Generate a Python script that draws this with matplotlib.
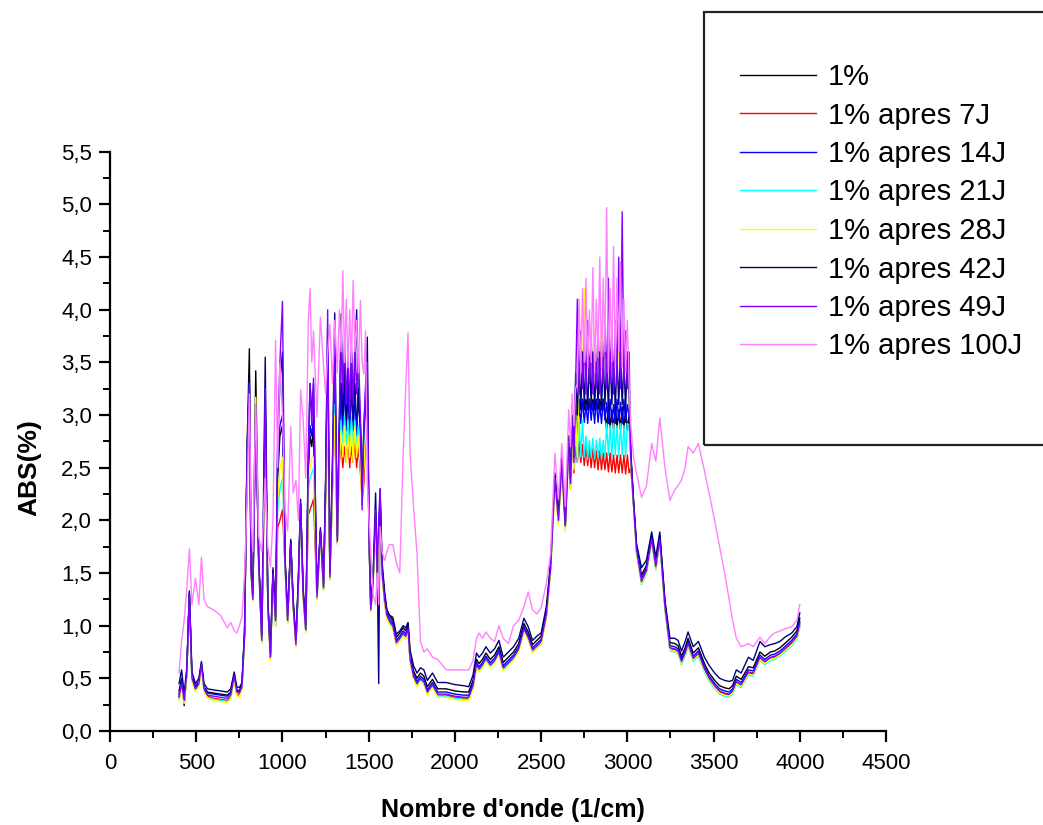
import matplotlib.pyplot as plt
from matplotlib.patches import Rectangle
from matplotlib.ticker import FuncFormatter, MultipleLocator

plt.rcParams['font.family'] = ['Liberation Sans', 'DejaVu Sans']

# wavenumbers (1/cm), shared by every spectrum
wavenumber = [
    400, 415, 430, 445, 460, 475, 495, 515, 530, 545, 565, 600, 640, 680, 700, 720, 735, 750, 765, 780,
    795, 808, 818, 828, 845, 862, 880, 900, 915, 930, 945, 960, 972, 985, 1000, 1015, 1030, 1048, 1062,
    1078, 1092, 1105, 1120, 1135, 1150, 1160, 1170, 1180, 1200, 1220, 1238, 1250, 1262, 1275, 1290, 1303, 1318,
    1330, 1340, 1350, 1360, 1370, 1380, 1390, 1400, 1410, 1420, 1430, 1440, 1452,
    1462, 1472, 1482, 1492, 1502, 1512, 1525, 1540, 1550, 1558, 1566, 1578, 1592, 1605, 1620,
    1640, 1660, 1680, 1700, 1715, 1728, 1740, 1760, 1780, 1800, 1820, 1840, 1870, 1900, 1950, 2000, 2050,
    2080, 2105, 2125, 2140, 2160, 2180, 2205, 2230, 2255, 2280, 2310, 2340, 2370, 2400, 2425, 2450, 2475,
    2500, 2530, 2555, 2580, 2600, 2620, 2640,
    2660, 2670, 2680, 2690, 2700, 2710, 2720, 2730, 2740, 2750, 2760, 2770, 2780, 2790, 2800, 2810, 2820,
    2830, 2840, 2850, 2860, 2870, 2880, 2890, 2900, 2910, 2920, 2930, 2940, 2950, 2960, 2970, 2980, 2990,
    3000, 3010, 3020,
    3036, 3053, 3082, 3110, 3141, 3165, 3188, 3218, 3247, 3275, 3294, 3314, 3335, 3352, 3382, 3412, 3447,
    3475, 3506, 3535, 3564, 3590, 3610, 3632, 3660, 3702, 3730, 3769, 3797, 3830, 3855, 3885, 3913, 3953,
    3983, 4000,
]

abs_1pct = [
    0.38, 0.50, 0.24, 0.55, 1.30, 0.52, 0.42, 0.47, 0.64, 0.42, 0.37, 0.36, 0.35, 0.34, 0.37, 0.54, 0.39, 0.38, 0.44, 0.93,
    2.7, 3.63, 1.55, 1.28, 3.42, 1.65, 0.88, 3.1, 1.22, 0.72, 1.52, 1.07, 2.4, 2.8, 2.9, 1.62, 1.07, 1.8, 1.22,
    0.84, 1.42, 2.15, 1.32, 0.98, 2.5, 2.8, 2.7, 2.9, 1.29, 1.9, 1.38, 2.3, 3.5, 1.48, 2.4, 3.3, 1.82,
    2.9, 3.3, 2.85, 3.4, 2.9, 3.3, 2.85, 3.35, 2.9, 3.3, 2.85, 3.2, 2.9,
    2.2, 2.8, 3.0, 3.2, 1.85, 1.2, 1.45, 2.0, 1.5, 1.9, 2.2, 1.55, 1.3, 1.15, 1.1,
    1.05, 0.89, 0.93, 0.98, 0.95, 1.02, 0.73, 0.57, 0.50, 0.55, 0.52, 0.42, 0.49, 0.40, 0.40, 0.38, 0.37,
    0.37, 0.48, 0.68, 0.64, 0.68, 0.74, 0.68, 0.72, 0.80, 0.65, 0.70, 0.75, 0.83, 1.02, 0.94, 0.82, 0.86,
    0.90, 1.14, 1.58, 2.42, 2.03, 2.58, 1.97,
    2.80, 2.40, 3.00, 2.60, 3.10, 2.70, 3.15, 3.05, 3.15, 3.05, 3.15, 3.05, 3.15, 3.05, 3.15, 3.05, 3.15,
    3.05, 3.15, 3.05, 3.15, 3.05, 2.86, 3.08, 2.88, 3.05, 2.86, 3.10, 2.88, 3.05, 2.86, 3.08, 2.88, 3.05,
    2.86, 3.00, 2.62,
    2.17, 1.76, 1.48, 1.57, 1.86, 1.61, 1.86, 1.22, 0.84, 0.83, 0.81, 0.71, 0.79, 0.88, 0.74, 0.79, 0.64,
    0.55, 0.48, 0.43, 0.41, 0.40, 0.43, 0.52, 0.49, 0.61, 0.60, 0.75, 0.71, 0.75, 0.76, 0.79, 0.83, 0.89,
    0.95, 1.07,
]

abs_7j = [
    0.33, 0.45, 0.28, 0.54, 1.29, 0.49, 0.39, 0.44, 0.62, 0.39, 0.33, 0.31, 0.30, 0.29, 0.32, 0.51, 0.35, 0.34, 0.41, 0.90,
    2.6, 3.2, 1.5, 1.25, 3.0, 1.6, 0.85, 3.0, 1.2, 0.69, 1.48, 1.0, 1.93, 2.0, 2.1, 1.55, 1.03, 1.76, 1.2,
    0.81, 1.38, 2.1, 1.28, 0.95, 2.05, 2.1, 2.15, 2.2, 1.25, 1.88, 1.34, 2.2, 3.2, 1.44, 2.3, 3.0, 1.78,
    2.55, 2.75, 2.5, 2.7, 2.55, 2.8, 2.5, 2.7, 2.55, 2.75, 2.5, 2.7, 2.45,
    2.2, 2.35, 2.8, 3.0, 1.8, 1.15, 1.4, 1.95, 1.45, 1.85, 2.1, 1.48, 1.22, 1.08, 1.03,
    0.99, 0.83, 0.87, 0.92, 0.89, 0.96, 0.67, 0.51, 0.44, 0.49, 0.46, 0.36, 0.43, 0.34, 0.34, 0.32, 0.31,
    0.31, 0.42, 0.62, 0.58, 0.62, 0.68, 0.62, 0.66, 0.74, 0.59, 0.64, 0.69, 0.77, 0.96, 0.88, 0.76, 0.80,
    0.84, 1.09, 1.54, 2.38, 1.99, 2.52, 1.93,
    2.68, 2.30, 2.85, 2.45, 2.70, 2.55, 2.75, 2.55, 2.72, 2.52, 2.70, 2.52, 2.68, 2.50, 2.68, 2.50, 2.66,
    2.48, 2.66, 2.48, 2.64, 2.48, 2.64, 2.46, 2.64, 2.46, 2.62, 2.45, 2.62, 2.45, 2.62, 2.45, 2.62, 2.44,
    2.62, 2.45, 2.50,
    2.14, 1.71, 1.41, 1.51, 1.81, 1.55, 1.81, 1.17, 0.78, 0.77, 0.75, 0.65, 0.73, 0.82, 0.68, 0.73, 0.58,
    0.49, 0.42, 0.37, 0.35, 0.34, 0.37, 0.46, 0.43, 0.55, 0.54, 0.69, 0.65, 0.69, 0.70, 0.73, 0.77, 0.83,
    0.89, 1.00,
]

abs_14j = [
    0.35, 0.48, 0.30, 0.56, 1.31, 0.51, 0.41, 0.46, 0.63, 0.41, 0.36, 0.35, 0.34, 0.33, 0.36, 0.53, 0.38, 0.37, 0.43, 0.92,
    2.65, 3.3, 1.52, 1.27, 3.05, 1.62, 0.87, 3.05, 1.21, 0.71, 1.5, 1.03, 2.5, 2.9, 3.0, 1.6, 1.06, 1.79, 1.21,
    0.83, 1.4, 2.16, 1.31, 0.97, 2.5, 2.9, 2.8, 3.0, 1.28, 1.9, 1.37, 2.3, 3.6, 1.47, 2.4, 3.4, 1.81,
    2.85, 3.2, 2.8, 3.3, 2.85, 3.25, 2.8, 3.3, 2.85, 3.2, 2.8, 3.25, 2.85,
    2.15, 2.8, 3.1, 3.3, 1.82, 1.18, 1.42, 2.05, 1.48, 1.9, 2.2, 1.52, 1.27, 1.12, 1.07,
    1.02, 0.86, 0.90, 0.95, 0.92, 0.99, 0.70, 0.54, 0.47, 0.52, 0.49, 0.39, 0.46, 0.37, 0.37, 0.35, 0.34,
    0.34, 0.45, 0.65, 0.61, 0.65, 0.71, 0.65, 0.69, 0.77, 0.62, 0.67, 0.72, 0.80, 0.99, 0.91, 0.79, 0.83,
    0.87, 1.12, 1.56, 2.41, 2.01, 2.56, 1.96,
    2.75, 2.35, 2.95, 2.50, 3.00, 2.60, 3.10, 2.92, 3.15, 2.93, 3.10, 2.92, 3.15, 2.95, 3.12, 2.92, 3.15,
    2.93, 3.10, 2.92, 3.15, 2.95, 3.12, 2.92, 3.15, 2.93, 3.10, 2.92, 3.15, 2.95, 3.12, 2.92, 3.15, 2.93,
    3.10, 3.00, 2.60,
    2.16, 1.74, 1.45, 1.54, 1.84, 1.58, 1.84, 1.20, 0.81, 0.80, 0.78, 0.68, 0.76, 0.85, 0.71, 0.76, 0.61,
    0.52, 0.45, 0.40, 0.38, 0.37, 0.40, 0.49, 0.46, 0.58, 0.57, 0.72, 0.68, 0.72, 0.73, 0.76, 0.80, 0.86,
    0.92, 1.04,
]

abs_21j = [
    0.30, 0.44, 0.27, 0.53, 1.28, 0.48, 0.38, 0.43, 0.61, 0.38, 0.32, 0.30, 0.29, 0.28, 0.31, 0.50, 0.34, 0.33, 0.40, 0.89,
    2.6, 3.25, 1.49, 1.24, 3.0, 1.59, 0.84, 3.0, 1.19, 0.68, 1.47, 1.0, 2.1, 2.3, 2.4, 1.56, 1.03, 1.76, 1.19,
    0.8, 1.38, 2.12, 1.28, 0.94, 2.3, 2.4, 2.45, 2.5, 1.25, 1.87, 1.34, 2.25, 3.3, 1.44, 2.35, 3.1, 1.78,
    2.7, 2.95, 2.7, 3.0, 2.72, 2.95, 2.7, 2.98, 2.7, 2.95, 2.68, 2.9, 2.6,
    2.2, 2.6, 2.9, 3.1, 1.8, 1.14, 1.38, 2.0, 1.45, 1.85, 2.15, 1.48, 1.23, 1.07, 1.02,
    0.98, 0.82, 0.86, 0.91, 0.88, 0.95, 0.66, 0.50, 0.43, 0.48, 0.45, 0.35, 0.42, 0.33, 0.33, 0.31, 0.30,
    0.30, 0.41, 0.61, 0.57, 0.61, 0.67, 0.61, 0.65, 0.73, 0.58, 0.63, 0.68, 0.76, 0.95, 0.87, 0.75, 0.79,
    0.83, 1.08, 1.52, 2.36, 1.97, 2.50, 1.90,
    2.70, 2.30, 2.90, 2.50, 2.95, 2.55, 2.98, 2.60, 2.95, 2.60, 2.80, 2.58, 2.76, 2.60, 2.78, 2.58, 2.76,
    2.60, 2.78, 2.58, 2.76, 2.60, 2.92, 2.62, 2.90, 2.60, 2.92, 2.62, 2.90, 2.60, 2.92, 2.62, 2.90, 2.60,
    2.92, 2.90, 2.55,
    2.13, 1.69, 1.39, 1.49, 1.79, 1.53, 1.79, 1.15, 0.76, 0.75, 0.73, 0.63, 0.71, 0.80, 0.66, 0.71, 0.56,
    0.47, 0.40, 0.35, 0.33, 0.32, 0.35, 0.44, 0.41, 0.53, 0.52, 0.67, 0.63, 0.67, 0.68, 0.71, 0.75, 0.81,
    0.87, 0.98,
]

abs_28j = [
    0.28, 0.42, 0.26, 0.52, 1.27, 0.47, 0.37, 0.42, 0.60, 0.37, 0.31, 0.29, 0.28, 0.27, 0.30, 0.49, 0.33, 0.32, 0.39, 0.88,
    2.6, 3.2, 1.48, 1.23, 3.17, 1.58, 0.83, 2.95, 1.18, 0.67, 1.46, 0.99, 2.2, 2.5, 2.6, 1.55, 1.02, 1.75, 1.18,
    0.79, 1.37, 2.1, 1.27, 0.93, 2.4, 2.5, 2.6, 2.6, 1.24, 1.86, 1.33, 2.2, 3.2, 1.43, 2.3, 3.0, 1.77,
    2.55, 2.85, 2.6, 2.9, 2.55, 2.8, 2.6, 2.85, 2.55, 2.9, 2.6, 2.8, 2.5,
    2.15, 2.5, 2.85, 3.05, 1.78, 1.13, 1.37, 1.95, 1.44, 1.83, 2.1, 1.46, 1.21, 1.06, 1.01,
    0.97, 0.81, 0.85, 0.90, 0.87, 0.94, 0.65, 0.49, 0.42, 0.47, 0.44, 0.34, 0.41, 0.32, 0.32, 0.30, 0.29,
    0.29, 0.40, 0.60, 0.56, 0.60, 0.66, 0.60, 0.64, 0.72, 0.57, 0.62, 0.67, 0.75, 0.94, 0.86, 0.74, 0.78,
    0.82, 1.07, 1.50, 2.35, 1.96, 2.48, 1.90,
    2.70, 2.30, 2.88, 2.48, 3.00, 2.60, 3.30, 3.80, 3.30, 4.20, 3.30, 3.80, 3.35, 3.75, 3.30, 3.80, 3.35,
    3.75, 3.30, 3.80, 3.35, 3.75, 3.30, 3.80, 3.35, 3.75, 3.30, 3.80, 3.35, 3.75, 3.30, 3.80, 3.35, 3.75,
    3.30, 3.20, 2.58,
    2.13, 1.70, 1.40, 1.50, 1.80, 1.54, 1.80, 1.16, 0.77, 0.76, 0.74, 0.64, 0.72, 0.81, 0.67, 0.72, 0.57,
    0.48, 0.41, 0.36, 0.34, 0.33, 0.36, 0.45, 0.42, 0.54, 0.53, 0.68, 0.64, 0.68, 0.69, 0.72, 0.76, 0.82,
    0.88, 0.99,
]

abs_42j = [
    0.45, 0.58, 0.35, 0.60, 1.33, 0.56, 0.45, 0.50, 0.66, 0.45, 0.40, 0.39, 0.38, 0.37, 0.40, 0.56, 0.42, 0.41, 0.46, 0.95,
    2.7, 3.35, 1.55, 1.3, 3.1, 1.65, 0.9, 3.55, 1.25, 0.74, 1.55, 1.08, 2.7, 3.3, 3.6, 1.65, 1.1, 1.82, 1.25,
    0.87, 1.45, 2.2, 1.35, 1.0, 2.7, 3.3, 3.0, 3.3, 1.32, 1.93, 1.4, 2.4, 3.8, 1.5, 2.6, 3.97, 1.85,
    2.95, 3.96, 3.0, 3.5, 2.95, 3.55, 3.0, 3.6, 2.95, 3.5, 4.0, 3.1, 2.9,
    2.3, 2.9, 3.2, 3.74, 1.9, 1.2, 1.45, 2.26, 1.5, 0.45, 2.3, 1.6, 1.33, 1.15, 1.1,
    1.08, 0.92, 0.95, 1.00, 0.98, 1.03, 0.77, 0.62, 0.55, 0.60, 0.58, 0.48, 0.55, 0.46, 0.46, 0.44, 0.43,
    0.42, 0.53, 0.74, 0.70, 0.74, 0.80, 0.74, 0.78, 0.86, 0.70, 0.75, 0.80, 0.88, 1.07, 0.99, 0.86, 0.90,
    0.93, 1.18, 1.60, 2.45, 2.05, 2.60, 1.95,
    2.80, 2.40, 3.00, 2.60, 3.40, 3.00, 3.50, 3.05, 3.60, 3.10, 3.50, 3.05, 3.55, 3.10, 3.60, 3.05, 3.50,
    3.10, 3.60, 3.05, 3.55, 3.10, 3.50, 3.05, 3.60, 3.10, 3.50, 3.05, 3.55, 3.10, 3.60, 3.10, 3.50, 3.05,
    3.60, 3.20, 2.65,
    2.19, 1.78, 1.55, 1.62, 1.89, 1.65, 1.89, 1.24, 0.88, 0.88, 0.86, 0.76, 0.85, 0.94, 0.80, 0.85, 0.70,
    0.62, 0.55, 0.50, 0.48, 0.47, 0.48, 0.58, 0.55, 0.70, 0.67, 0.85, 0.80, 0.82, 0.83, 0.85, 0.89, 0.93,
    0.99, 1.12,
]

abs_49j = [
    0.32, 0.45, 0.29, 0.55, 1.30, 0.50, 0.40, 0.45, 0.63, 0.40, 0.34, 0.33, 0.32, 0.31, 0.34, 0.52, 0.37, 0.36, 0.42, 0.90,
    2.6, 3.3, 1.5, 1.25, 3.0, 1.6, 0.86, 3.25, 1.2, 0.7, 1.5, 1.05, 2.8, 3.5, 4.08, 1.6, 1.05, 1.78, 1.2,
    0.82, 1.4, 2.17, 1.3, 0.96, 2.6, 3.3, 2.9, 3.35, 1.27, 1.9, 1.36, 2.3, 4.0, 1.46, 2.5, 3.7, 1.8,
    3.0, 3.8, 3.2, 3.7, 3.1, 3.6, 3.0, 3.65, 3.1, 3.7, 3.2, 3.6, 3.0,
    2.1, 2.9, 3.3, 3.5, 1.8, 1.15, 1.4, 2.1, 1.5, 2.0, 2.3, 1.5, 1.25, 1.1, 1.05,
    1.00, 0.84, 0.88, 0.93, 0.90, 0.97, 0.68, 0.52, 0.45, 0.50, 0.47, 0.37, 0.44, 0.35, 0.35, 0.33, 0.32,
    0.32, 0.43, 0.63, 0.59, 0.63, 0.69, 0.63, 0.67, 0.75, 0.60, 0.65, 0.70, 0.78, 0.97, 0.89, 0.77, 0.81,
    0.85, 1.10, 1.55, 2.40, 2.00, 2.55, 1.95,
    2.75, 2.35, 2.95, 2.55, 3.30, 4.10, 3.20, 3.80, 3.25, 3.70, 3.20, 3.90, 3.30, 3.75, 3.20, 3.60, 3.25,
    3.85, 3.20, 3.70, 3.30, 3.90, 3.25, 4.30, 3.30, 3.80, 3.20, 3.90, 3.30, 4.50, 3.25, 4.93, 3.30, 3.80,
    3.25, 3.60, 2.60,
    2.15, 1.72, 1.42, 1.52, 1.82, 1.56, 1.82, 1.18, 0.79, 0.78, 0.76, 0.66, 0.74, 0.83, 0.69, 0.74, 0.59,
    0.50, 0.43, 0.38, 0.36, 0.35, 0.38, 0.47, 0.44, 0.56, 0.55, 0.70, 0.66, 0.70, 0.71, 0.74, 0.78, 0.84,
    0.90, 1.02,
]

abs_100j = [
    0.55, 0.85, 1.05, 1.35, 1.73, 1.20, 1.45, 1.20, 1.65, 1.25, 1.18, 1.15, 1.10, 0.98, 1.03, 0.95, 0.93, 1.00, 1.08, 1.50,
    2.2, 3.2, 2.0, 1.7, 3.1, 1.85, 1.7, 2.4, 1.75, 1.56, 2.0, 3.71, 2.5, 3.49, 3.0, 2.1, 1.9, 2.89, 2.26,
    2.38, 2.0, 3.24, 2.95, 2.4, 3.9, 4.2, 3.5, 3.8, 2.98, 3.93, 3.47, 3.2, 3.6, 3.86, 3.3, 3.9, 3.4,
    4.0, 3.6, 4.37, 3.5, 4.1, 3.45, 4.0, 3.5, 4.28, 3.6, 3.9, 3.4, 4.09,
    3.5, 3.39, 3.8, 2.38, 2.0, 1.69, 1.3, 1.2, 1.5, 1.2, 1.94, 1.7, 1.62, 1.7, 1.77,
    1.77, 1.60, 1.50, 2.64, 3.27, 3.78, 2.64, 2.13, 1.69, 0.85, 0.75, 0.78, 0.70, 0.68, 0.58, 0.58, 0.58,
    0.58, 0.67, 0.88, 0.93, 0.88, 0.94, 0.88, 0.85, 1.00, 0.88, 0.83, 1.00, 1.05, 1.18, 1.32, 1.15, 1.11,
    1.17, 1.40, 1.69, 2.64, 2.20, 2.73, 2.13,
    3.05, 2.70, 3.20, 2.90, 3.25, 3.30, 4.10, 3.40, 4.20, 3.50, 4.30, 3.45, 4.00, 3.50, 4.40, 3.40, 4.10,
    3.55, 4.50, 3.45, 4.30, 3.60, 4.97, 3.40, 4.20, 3.50, 4.60, 3.45, 4.30, 3.60, 4.45, 3.45, 4.10, 3.40,
    3.90, 3.30, 2.90,
    2.60, 2.45, 2.22, 2.32, 2.73, 2.56, 2.97, 2.50, 2.19, 2.29, 2.33, 2.38, 2.50, 2.70, 2.64, 2.73, 2.47,
    2.25, 2.00, 1.75, 1.50, 1.25, 1.05, 0.88, 0.80, 0.83, 0.80, 0.89, 0.83, 0.90, 0.93, 0.95, 0.97, 0.99,
    1.05, 1.20,
]

labels = ['1%', '1% apres 7J', '1% apres 14J', '1% apres 21J',
          '1% apres 28J', '1% apres 42J', '1% apres 49J', '1% apres 100J']
spectra = [abs_1pct, abs_7j, abs_14j, abs_21j, abs_28j, abs_42j, abs_49j, abs_100j]
colors = ['#000000', '#FF0000', '#0000FF', '#00FFFF',
          '#FFFF00', '#000080', '#8000FF', '#FF80FF']

fig = plt.figure(figsize=(10.43, 8.25), dpi=100)
ax = fig.add_axes([0.1055, 0.114, 0.744, 0.702])

handles = []
for y, c, lab in zip(spectra, colors, labels):
    ln, = ax.plot(wavenumber, y, color=c, lw=1.0, label=lab)
    handles.append(ln)

ax.set_xlim(0, 4500)
ax.set_ylim(0, 5.5)
ax.xaxis.set_major_locator(MultipleLocator(500))
ax.xaxis.set_minor_locator(MultipleLocator(250))
ax.yaxis.set_major_locator(MultipleLocator(0.5))
ax.yaxis.set_minor_locator(MultipleLocator(0.25))
ax.yaxis.set_major_formatter(FuncFormatter(lambda v, p: f'{v:.1f}'.replace('.', ',')))

for side in ('top', 'right'):
    ax.spines[side].set_visible(False)
for side in ('left', 'bottom'):
    ax.spines[side].set_linewidth(1.6)

ax.tick_params(which='major', direction='out', length=8, width=1.6, labelsize=16)
ax.tick_params(which='minor', direction='out', length=5, width=1.4)
ax.tick_params(axis='x', pad=8)
ax.tick_params(axis='y', pad=5)

ax.set_xlabel("Nombre d'onde (1/cm)", fontsize=18, fontweight='bold')
ax.set_ylabel('ABS(%)', fontsize=19, fontweight='bold')
ax.xaxis.set_label_coords(0.519, -0.115)
ax.yaxis.set_label_coords(-0.088, 0.454)

# legend frame runs off the right edge of the figure
fig.patches.append(Rectangle((704 / 1043, 1 - 445 / 825), 0.4, 433 / 825,
                             transform=fig.transFigure, fill=False,
                             edgecolor='#222222', lw=1.6))
fig.legend(handles=handles, loc='upper left', bbox_to_anchor=(740 / 1043, 1 - 63 / 825),
           frameon=False, fontsize=21, handlelength=2.6, handletextpad=0.4,
           labelspacing=0.36, borderpad=0, borderaxespad=0)

fig.savefig('out.png', dpi=100)
